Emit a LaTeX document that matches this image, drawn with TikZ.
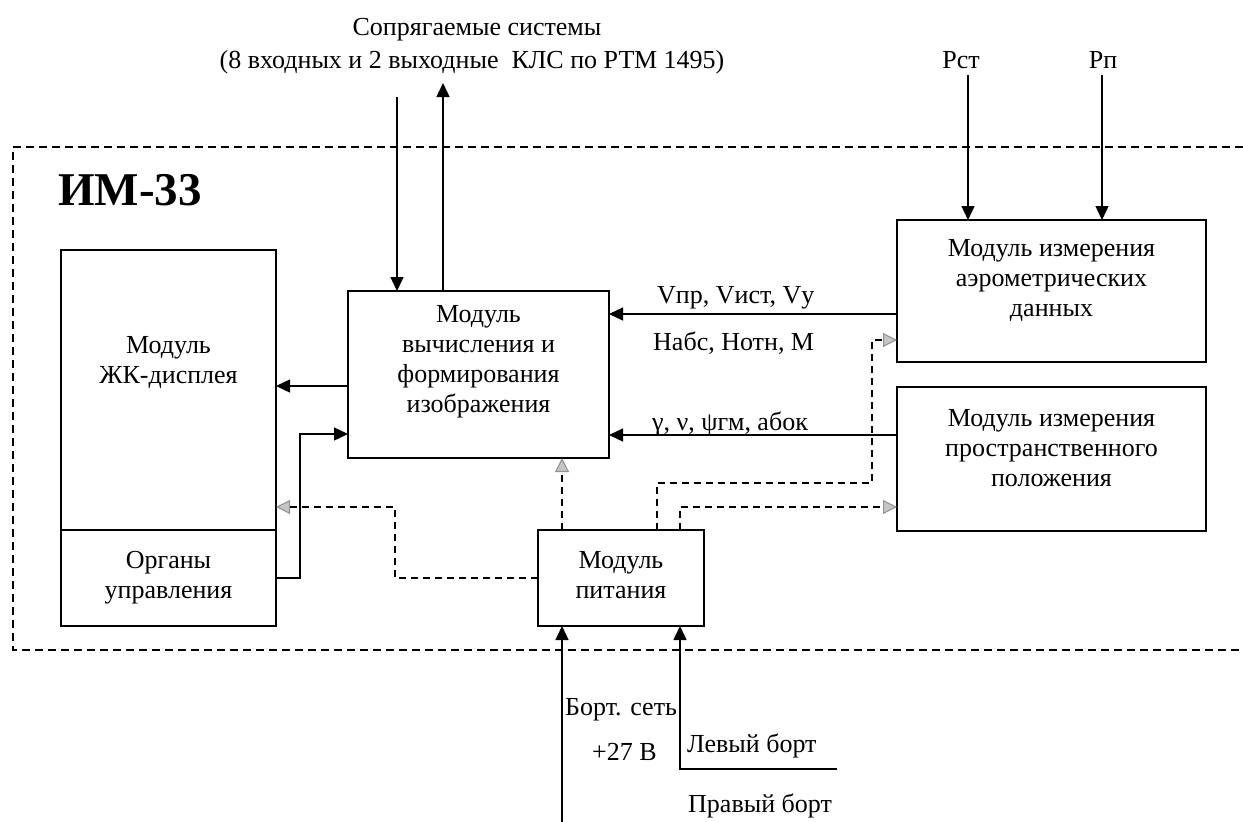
\documentclass[tikz,border=0pt]{standalone}
\usepackage{fontspec}
\setmainfont{Liberation Serif}
\usetikzlibrary{arrows.meta}
\begin{document}
\begin{tikzpicture}[x=1pt,y=-1pt,
  box/.style={draw,line width=1.6pt,inner sep=0pt,outer sep=0pt},
  txt/.style={inner sep=0pt,align=center,font=\fontsize{26}{30}\selectfont},
  lbl/.style={inner sep=0pt,anchor=base west,font=\fontsize{26}{30}\selectfont},
  arr/.style={line width=1.4pt,-{Triangle[length=14pt,width=13pt]}},
  parr/.style={line width=1.1pt,dash pattern=on 7pt off 5pt,-{Triangle[length=14pt,width=14pt,color=gray!85,fill=gray!45]}},
  frame/.style={line width=1.1pt,dash pattern=on 8pt off 5pt}]
\useasboundingbox (0,0) rectangle (1243,822);
% frame
\draw[frame] (1243,147) -- (13,147) -- (13,650) -- (1243,650);
\node[inner sep=0pt,anchor=base west,font=\fontsize{47}{50}\selectfont\bfseries] (im) at (58,205) {ИМ-33};
% boxes
\node[box,minimum width=215pt,minimum height=280pt] (lcd) at (168.5,390) {};
\node[box,minimum width=215pt,minimum height=96pt] (ctrl) at (168.5,578) {};
\node[box,minimum width=261pt,minimum height=167pt] (calc) at (478.5,374.5) {};
\node[box,minimum width=309pt,minimum height=142pt] (air) at (1051.5,291) {};
\node[box,minimum width=309pt,minimum height=144pt] (spat) at (1051.5,459) {};
\node[box,minimum width=166pt,minimum height=96pt] (pwr) at (621,578) {};
% box texts
\node[txt] (lcdt) at (168.5,362) {Модуль\\ЖК-дисплея};
\node[txt] (ctrlt) at (168.5,578) {Органы\\управления};
\node[txt] (calct) at (478.5,362) {Модуль\\вычисления и\\формирования\\изображения};
\node[txt] (airt) at (1051.5,280) {Модуль измерения\\аэрометрических\\данных};
\node[txt] (spatt) at (1051.5,448) {Модуль измерения\\пространственного\\положения};
\node[txt] (pwrt) at (621,575) {Модуль\\питания};
% top texts
\node[txt,anchor=base] (sys1) at (477,35) {Сопрягаемые системы};
\node[txt,anchor=base] (sys2) at (472,68) {(8 входных и 2 выходные\ \ КЛС по РТМ 1495)};
\node[txt,anchor=base] (pst) at (961,68) {Рст};
\node[txt,anchor=base] (pp) at (1103,68) {Рп};
\coordinate (syin) at (397,97);
\coordinate (syout) at (443,83);
\coordinate (pstc) at (968,75);
\coordinate (ppc) at (1102,75);
\draw[arr] (syin) -- (syin |- calc.north);
\draw[arr] (syout |- calc.north) -- (syout);
\draw[arr] (pstc) -- (pstc |- air.north);
\draw[arr] (ppc) -- (ppc |- air.north);
% signal arrows
\draw[arr] (air.west |- 0,314) -- (calc.east |- 0,314);
\draw[arr] (spat.west |- 0,435) -- (calc.east |- 0,435);
\draw[arr] (calc.west |- 0,386) -- (lcd.east |- 0,386);
\draw[arr] (ctrl.east |- 0,578) -- (300,578) -- (300,434) -- (calc.west |- 0,434);
\node[lbl] (l1) at (657,303) {Vпр, Vист, Vу};
\node[lbl] (l2) at (653,350) {Набс, Нотн, М};
\node[lbl] (l3) at (652,430) {γ, ν, ψгм, абок};
% power dashed
\draw[parr] (pwr.north -| 562,0) -- (calc.south -| 562,0);
\draw[parr] (pwr.west |- 0,578) -- (395,578) -- (395,507) -- (lcd.east |- 0,507);
\draw[parr] (pwr.north -| 657,0) -- (657,483) -- (872,483) -- (872,340) -- (air.west |- 0,340);
\draw[parr] (pwr.north -| 680,0) -- (680,507) -- (spat.west |- 0,507);
% power inputs
\coordinate (rb) at (562,822);
\coordinate (lb) at (837,769);
\draw[arr] (rb) -- (rb |- pwr.south);
\draw[arr] (lb) -- (680,769) -- (680,626);
\node[lbl] (b1) at (565,715) {Борт. сеть};
\node[lbl] (b2) at (592,760) {+27 В};
\node[lbl] (b3) at (687,752) {Левый борт};
\node[lbl] (b4) at (688,812) {Правый борт};
\end{tikzpicture}
\end{document}
